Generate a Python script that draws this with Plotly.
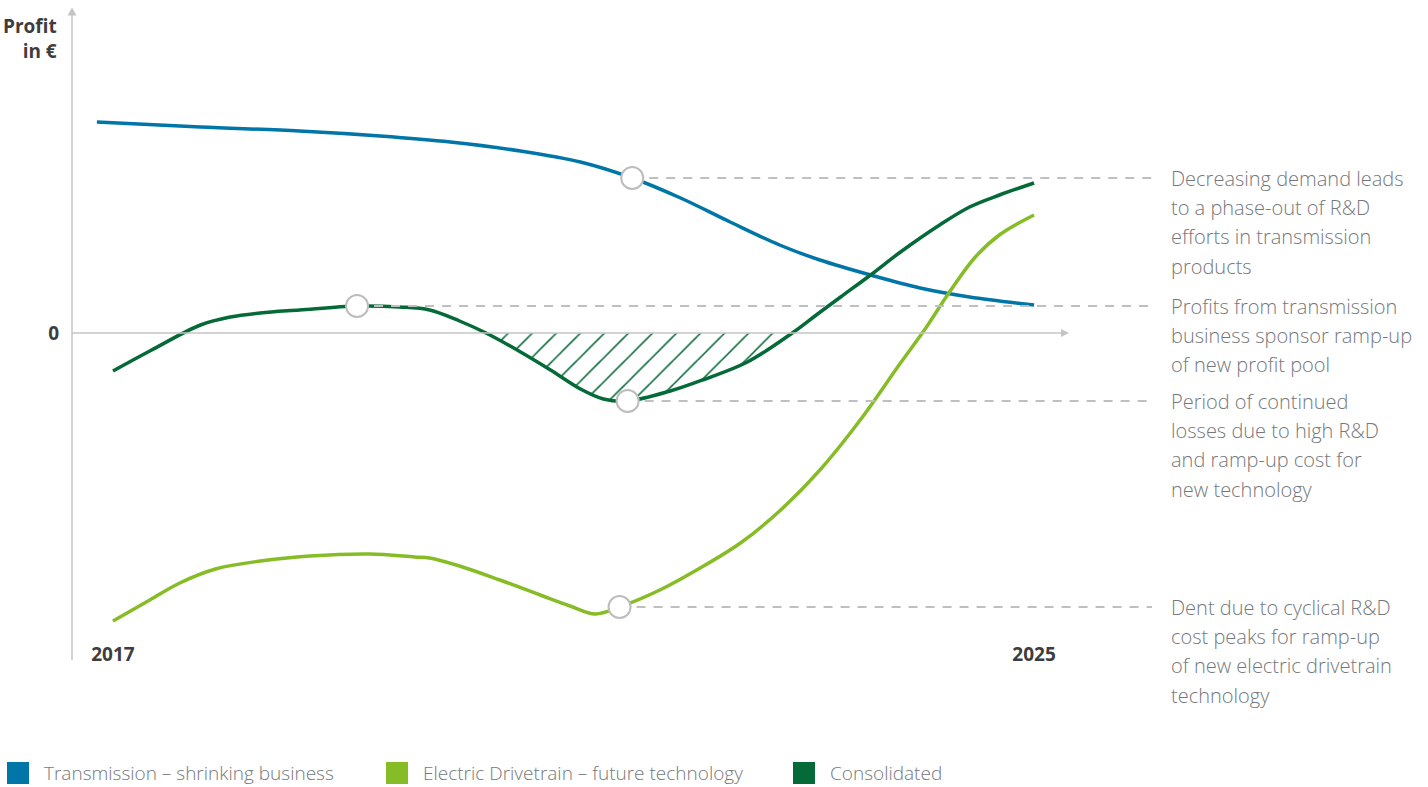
import numpy as np
import plotly.graph_objects as go

# ---- data -----------------------------------------------------------------
tick_years = [2017, 2025]
tick_year_labels = ["2017", "2025"]
profit_ticks = [0]
profit_tick_labels = ["0"]

# Transmission – shrinking business
trans_year = [2016.86, 2017.76, 2018.62, 2019.32, 2019.93, 2020.54, 2021.06, 2021.51,
              2021.93, 2022.36, 2022.79, 2023.14, 2023.58, 2024.01, 2024.44, 2025.00]
trans_profit = [2.11, 2.06, 2.02, 1.97, 1.91, 1.82, 1.71, 1.55,
                1.35, 1.11, 0.88, 0.73, 0.58, 0.45, 0.36, 0.28]

# Electric Drivetrain – future technology
edrive_year = [2017.00, 2017.32, 2017.58, 2017.89, 2018.28, 2018.71, 2019.23, 2019.62,
               2019.75, 2020.01, 2020.36, 2020.71, 2020.97, 2021.19, 2021.40, 2021.75,
               2022.10, 2022.45, 2022.79, 2023.14, 2023.49, 2023.84, 2024.06, 2024.26,
               2024.49, 2024.71, 2025.00]
edrive_profit = [-2.88, -2.67, -2.50, -2.36, -2.28, -2.23, -2.21, -2.24,
                 -2.25, -2.33, -2.47, -2.62, -2.73, -2.81, -2.74, -2.57,
                 -2.35, -2.10, -1.78, -1.37, -0.87, -0.30, 0.05, 0.40,
                 0.76, 0.99, 1.18]

# Consolidated
cons_year = [2017.00, 2017.32, 2017.76, 2018.02, 2018.28, 2018.62, 2019.12, 2019.49,
             2019.75, 2020.01, 2020.24, 2020.54, 2020.80, 2021.06, 2021.26, 2021.47,
             2021.84, 2022.12, 2022.51, 2022.90, 2023.12, 2023.32, 2023.58, 2023.84,
             2024.18, 2024.44, 2024.70, 2025.00]
cons_profit = [-0.38, -0.18, 0.08, 0.16, 0.20, 0.23, 0.27, 0.26,
               0.23, 0.12, 0.00, -0.19, -0.37, -0.56, -0.66, -0.68,
               -0.58, -0.47, -0.29, 0.00, 0.19, 0.36, 0.58, 0.81,
               1.08, 1.26, 1.38, 1.50]

# Highlighted points: (series, index into that series) and their notes
callouts = [
    ("trans", 7, ["Decreasing demand leads", "to a phase-out of R&D",
                  "efforts in transmission", "products"]),
    ("cons", 6, ["Profits from transmission", "business sponsor ramp-up",
                 "of new profit pool"]),
    ("cons", 15, ["Period of continued", "losses due to high R&D",
                  "and ramp-up cost for", "new technology"]),
    ("edrive", 14, ["Dent due to cyclical R&D", "cost peaks for ramp-up",
                    "of new electric drivetrain", "technology"]),
]

series_names = ["Transmission – shrinking business",
                "Electric Drivetrain – future technology",
                "Consolidated"]

# ---- style ----------------------------------------------------------------
BLUE = "#0076A8"
LIGHT_GREEN = "#86BC25"
DARK_GREEN = "#046A38"
TEXT_GREY = "#75787B"
LABEL_DARK = "#3d3d40"
AXIS_GREY = "#c4c4c4"
DASH_GREY = "#bfbfbf"
FONT = "Open Sans"

W, H = 1428, 787
M_L, M_R, M_T, M_B = 72, 268, 0, 147
PLOT_W = W - M_L - M_R
PLOT_H = H - M_T - M_B
X_RANGE = [2016.644, 2026.094]
Y_RANGE = [-3.07, 3.33]


def paper_x(px):
    return (px - M_L) / PLOT_W


def paper_y(py):
    return (M_T + PLOT_H - py) / PLOT_H


def data_x(px):
    return X_RANGE[0] + (px - M_L) / PLOT_W * (X_RANGE[1] - X_RANGE[0])


series = {
    "trans": (trans_year, trans_profit),
    "edrive": (edrive_year, edrive_profit),
    "cons": (cons_year, cons_profit),
}

fig = go.Figure()

# hatched loss area of the consolidated curve
cy = np.array(cons_year)
cp = np.array(cons_profit)
loss = (cy >= 2020.2) & (cy <= 2023.0) & (cp <= 0)
fig.add_trace(go.Scatter(
    x=cy[loss], y=cp[loss], mode="lines", line=dict(width=0, shape="spline"),
    fill="tozeroy", fillcolor="white",
    fillpattern=dict(shape="/", fgcolor=DARK_GREEN, bgcolor="white", fgopacity=1,
                     size=17, solidity=0.09),
    hoverinfo="skip", showlegend=False))

for key, color in [("trans", BLUE), ("edrive", LIGHT_GREEN), ("cons", DARK_GREEN)]:
    xs, ys = series[key]
    fig.add_trace(go.Scatter(x=xs, y=ys, mode="lines",
                             line=dict(color=color, width=3.5, shape="spline", smoothing=1.0),
                             showlegend=False))

# leader lines and highlight markers
lead_end = data_x(1152)
mx, my = [], []
for key, idx, lines in callouts:
    xs, ys = series[key]
    mx.append(xs[idx])
    my.append(ys[idx])
    fig.add_trace(go.Scatter(x=[xs[idx], lead_end], y=[ys[idx], ys[idx]], mode="lines",
                             line=dict(color=DASH_GREY, width=2, dash="9px,8px"),
                             hoverinfo="skip", showlegend=False))
    for k, txt in enumerate(lines):
        fig.add_annotation(x=paper_x(1169), xref="paper", y=ys[idx], yref="y",
                           yshift=-29.4 * k, text=txt, showarrow=False,
                           xanchor="left", yanchor="middle",
                           font=dict(family=FONT, size=20, color=TEXT_GREY, weight=300))

fig.add_trace(go.Scatter(x=mx, y=my, mode="markers",
                         marker=dict(size=22, color="white",
                                     line=dict(color="#bdbdbd", width=2)),
                         showlegend=False))

# axes drawn as arrows
shapes = [
    dict(type="line", xref="paper", yref="paper", x0=paper_x(72), x1=paper_x(72),
         y0=paper_y(660), y1=paper_y(14), line=dict(color=AXIS_GREY, width=1.5)),
    dict(type="path", xref="paper", yref="paper",
         path=f"M {paper_x(67.5)} {paper_y(15.5)} L {paper_x(76.5)} {paper_y(15.5)} "
              f"L {paper_x(72)} {paper_y(7.5)} Z",
         fillcolor=AXIS_GREY, line=dict(width=0)),
    dict(type="line", xref="paper", yref="paper", x0=paper_x(72), x1=paper_x(1062),
         y0=paper_y(333), y1=paper_y(333), line=dict(color=AXIS_GREY, width=1.5)),
    dict(type="path", xref="paper", yref="paper",
         path=f"M {paper_x(1061)} {paper_y(329)} L {paper_x(1061)} {paper_y(337)} "
              f"L {paper_x(1069)} {paper_y(333)} Z",
         fillcolor=AXIS_GREY, line=dict(width=0)),
]

# legend swatches
legend_colors = [BLUE, LIGHT_GREEN, DARK_GREEN]
legend_sq_x = [7, 386, 793]
for name, col, sx in zip(series_names, legend_colors, legend_sq_x):
    shapes.append(dict(type="rect", xref="paper", yref="paper",
                       x0=paper_x(sx), x1=paper_x(sx + 22),
                       y0=paper_y(784), y1=paper_y(762),
                       fillcolor=col, line=dict(width=0)))
    fig.add_annotation(x=paper_x(sx + 35), xref="paper", y=paper_y(773), yref="paper",
                       text=name, showarrow=False, xanchor="left", yanchor="middle",
                       font=dict(family=FONT, size=19, color=TEXT_GREY, weight=300))

fig.add_annotation(x=paper_x(59), xref="paper", y=paper_y(38.5), yref="paper",
                   text="Profit<br>in €", showarrow=False, xanchor="right",
                   yanchor="middle", align="right",
                   font=dict(family=FONT, size=19, color=LABEL_DARK, weight="bold"))

fig.update_layout(
    width=W, height=H, autosize=False,
    margin=dict(l=M_L, r=M_R, t=M_T, b=M_B, pad=0),
    paper_bgcolor="white", plot_bgcolor="white",
    shapes=shapes,
    xaxis=dict(range=X_RANGE, tickvals=tick_years, ticktext=tick_year_labels,
               showgrid=False, zeroline=False, showline=False, ticks="",
               ticklabelstandoff=1,
               tickfont=dict(family=FONT, size=19, color=LABEL_DARK, weight="bold")),
    yaxis=dict(range=Y_RANGE, tickvals=profit_ticks, ticktext=profit_tick_labels,
               showgrid=False, zeroline=False, showline=False, ticks="",
               ticklabelstandoff=12,
               tickfont=dict(family=FONT, size=19, color=LABEL_DARK, weight="bold")),
    hovermode=False,
)

fig.write_html("out.html")
